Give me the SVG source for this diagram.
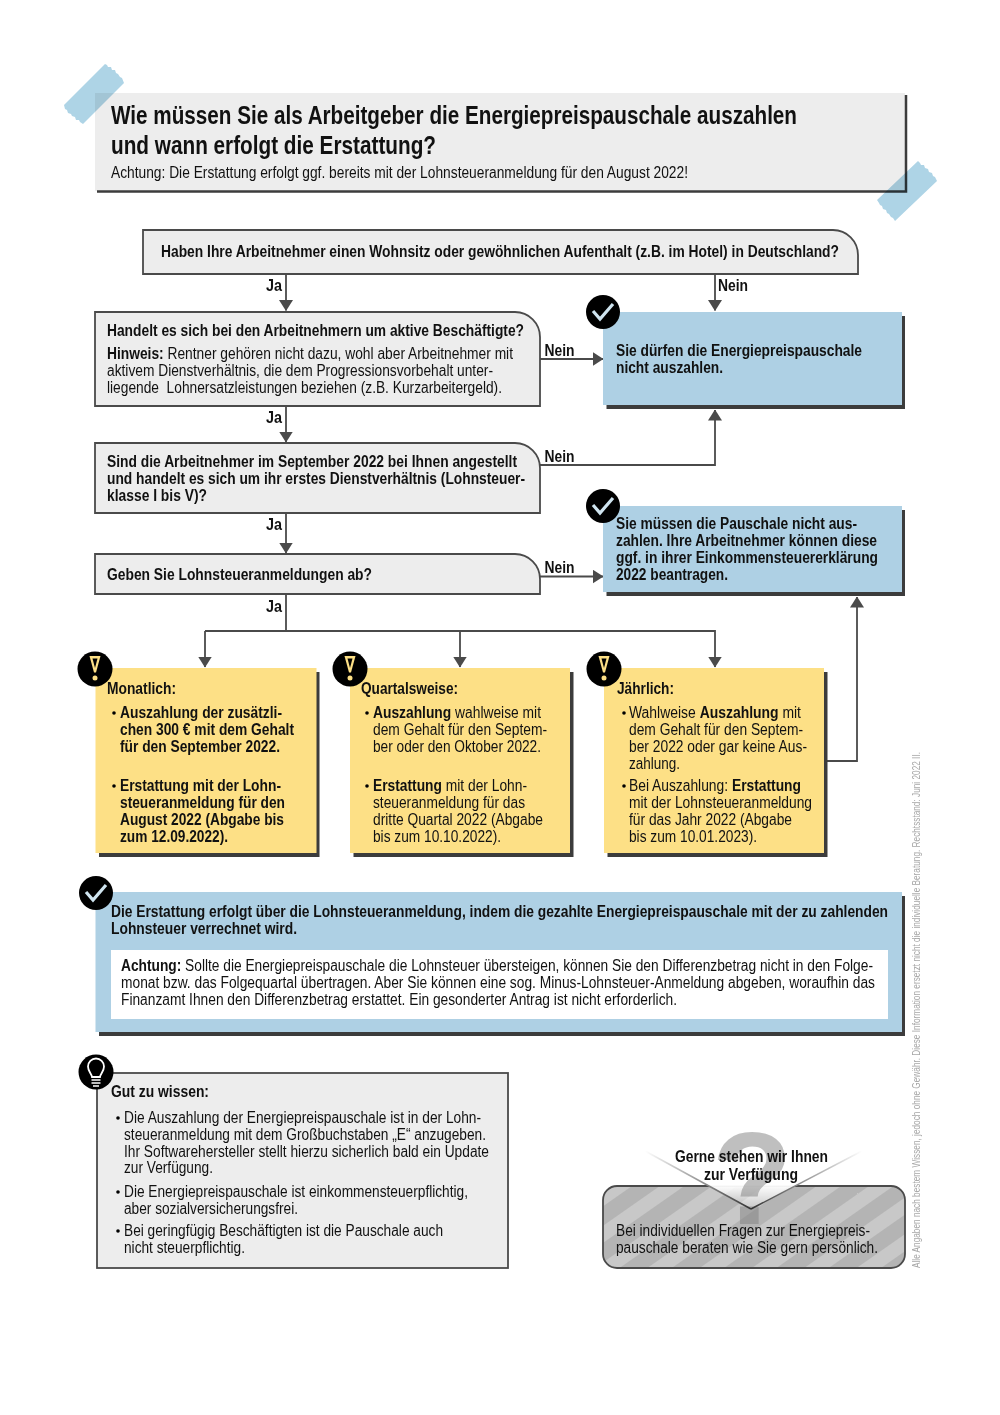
<svg xmlns="http://www.w3.org/2000/svg" width="1000" height="1415" viewBox="0 0 1000 1415">
<style>
text{font-family:"Liberation Sans",Arial,sans-serif;font-size:16px;fill:#111}
.b{font-weight:bold}
.t{font-size:25px;font-weight:bold}
.lab{font-weight:bold;font-size:16px}
.box{fill:#ededed;stroke:#4a4a4a;stroke-width:1.800}
.sh{fill:#3c3c3c}
.blue{fill:#aed0e4}
.yel{fill:#fde086}
.con{fill:none;stroke:#4a4a4a;stroke-width:1.800}
.ic{fill:#000}
.chk{fill:none;stroke:#cfe4ef;stroke-width:3.200;stroke-linejoin:miter}
.ey{fill:#fde086}
.tape{fill:#aed4e6;mix-blend-mode:multiply}
</style>
<defs>
<marker id="arr" viewBox="0 0 11 14" refX="10.500" refY="7" markerWidth="11" markerHeight="14" markerUnits="userSpaceOnUse" orient="auto"><path d="M0 0L11 7L0 14Z" fill="#4a4a4a"/></marker>
<pattern id="st" width="30" height="30" patternUnits="userSpaceOnUse" patternTransform="rotate(-35)"><rect width="30" height="30" fill="#b4b4b4"/><rect width="30" height="14" fill="#c8c8c8"/></pattern>
<linearGradient id="fl" x1="645" y1="0" x2="751" y2="0" gradientUnits="userSpaceOnUse"><stop offset="0" stop-color="#fff"/><stop offset="1" stop-color="#333"/></linearGradient>
<linearGradient id="fr" x1="862" y1="0" x2="751" y2="0" gradientUnits="userSpaceOnUse"><stop offset="0" stop-color="#fff"/><stop offset="1" stop-color="#333"/></linearGradient>
<linearGradient id="fade" x1="0" y1="1140" x2="0" y2="1209" gradientUnits="userSpaceOnUse"><stop offset="0.650" stop-color="#fff"/><stop offset="1" stop-color="#fff" stop-opacity="0"/></linearGradient>
<g id="chk"><circle r="17" class="ic"/><path d="M-10 -1L-3 7L10 -8" class="chk"/></g>
<g id="exc"><circle r="17.500" class="ic"/><path d="M-5.500 -13H5.500L1 3.500H-1Z" class="ey"/><path d="M-2.500 -10.500H2.500L0 -1Z" class="ic"/><circle cy="9" r="2.500" class="ey"/></g>
</defs>

<g id="title">
<rect x="95" y="93" width="810" height="98" fill="#ededed"/>
<path d="M97 191.500H906V95" fill="none" stroke="#3c3c3c" stroke-width="2.500"/>
<path class="tape" d="M105 64L107 65L108 67L111 67L112 70L115 70L116 73L118 74L120 77L122 78L124 83L83 124L80 122L79 120L76 120L75 117L72 116L71 114L68 113L67 110L65 109L64 105Z"/>
<path class="tape" d="M918 161L920 163L921 165L924 165L925 168L928 169L929 172L932 173L933 176L935 177L937 181L895 221L893 218L891 217L889 214L887 213L886 210L883 209L882 206L880 205L879 203L877 200Z"/>
<text x="111" y="124" class="t" textLength="686" lengthAdjust="spacingAndGlyphs">Wie müssen Sie als Arbeitgeber die Energiepreispauschale auszahlen</text>
<text x="111" y="154" class="t" textLength="325" lengthAdjust="spacingAndGlyphs">und wann erfolgt die Erstattung?</text>
<text x="111" y="178" textLength="577" lengthAdjust="spacingAndGlyphs">Achtung: Die Erstattung erfolgt ggf. bereits mit der Lohnsteueranmeldung für den August 2022!</text>
</g>

<g id="connectors">
<path class="con" d="M286 274V310.500" marker-end="url(#arr)"/>
<path class="con" d="M715 274V310.500" marker-end="url(#arr)"/>
<path class="con" d="M540 359H603" marker-end="url(#arr)"/>
<path class="con" d="M286 406V442" marker-end="url(#arr)"/>
<path class="con" d="M540 465H715V410" marker-end="url(#arr)"/>
<path class="con" d="M286 513V553" marker-end="url(#arr)"/>
<path class="con" d="M540 576.500H603" marker-end="url(#arr)"/>
<path class="con" d="M286 594V631"/>
<path class="con" d="M205 631H715V667" marker-end="url(#arr)"/>
<path class="con" d="M205 631V667" marker-end="url(#arr)"/>
<path class="con" d="M460 631V667" marker-end="url(#arr)"/>
<path class="con" d="M827 761H857V597" marker-end="url(#arr)"/>
<g class="labels">
<text x="266" y="290.500" class="lab" textLength="16" lengthAdjust="spacingAndGlyphs">Ja</text>
<text x="718" y="290.500" class="lab" textLength="30" lengthAdjust="spacingAndGlyphs">Nein</text>
<text x="544.500" y="355.500" class="lab" textLength="30" lengthAdjust="spacingAndGlyphs">Nein</text>
<text x="266" y="422.500" class="lab" textLength="16" lengthAdjust="spacingAndGlyphs">Ja</text>
<text x="544.500" y="461.500" class="lab" textLength="30" lengthAdjust="spacingAndGlyphs">Nein</text>
<text x="266" y="529.500" class="lab" textLength="16" lengthAdjust="spacingAndGlyphs">Ja</text>
<text x="544.500" y="572.500" class="lab" textLength="30" lengthAdjust="spacingAndGlyphs">Nein</text>
<text x="266" y="611.500" class="lab" textLength="16" lengthAdjust="spacingAndGlyphs">Ja</text>
</g>
</g>

<g id="q1">
<path class="box" d="M143 230H833A25 25 0 0 1 858 255V274H143Z"/>
<text x="161" y="257" class="b" textLength="678" lengthAdjust="spacingAndGlyphs">Haben Ihre Arbeitnehmer einen Wohnsitz oder gewöhnlichen Aufenthalt (z.B. im Hotel) in Deutschland?</text>
</g>
<g id="q2">
<path class="box" d="M95 312H515A25 25 0 0 1 540 337V406H95Z"/>
<text x="107" y="336" class="b" textLength="417" lengthAdjust="spacingAndGlyphs">Handelt es sich bei den Arbeitnehmern um aktive Beschäftigte?</text>
<text x="107" y="359" textLength="406" lengthAdjust="spacingAndGlyphs"><tspan class="b">Hinweis:</tspan> Rentner gehören nicht dazu, wohl aber Arbeitnehmer mit</text>
<text x="107" y="376" textLength="386" lengthAdjust="spacingAndGlyphs">aktivem Dienstverhältnis, die dem Progressionsvorbehalt unter-</text>
<text x="107" y="393" textLength="395" lengthAdjust="spacingAndGlyphs" xml:space="preserve">liegende  Lohnersatzleistungen beziehen (z.B. Kurzarbeitergeld).</text>
</g>
<g id="q3">
<path class="box" d="M95 443H515A25 25 0 0 1 540 468V513H95Z"/>
<text x="107" y="467" class="b" textLength="410" lengthAdjust="spacingAndGlyphs">Sind die Arbeitnehmer im September 2022 bei Ihnen angestellt</text>
<text x="107" y="484" class="b" textLength="418" lengthAdjust="spacingAndGlyphs">und handelt es sich um ihr erstes Dienstverhältnis (Lohnsteuer-</text>
<text x="107" y="501" class="b" textLength="100" lengthAdjust="spacingAndGlyphs">klasse I bis V)?</text>
</g>
<g id="q4">
<path class="box" d="M95 554H515A25 25 0 0 1 540 579V594H95Z"/>
<text x="107" y="580" class="b" textLength="265" lengthAdjust="spacingAndGlyphs">Geben Sie Lohnsteueranmeldungen ab?</text>
</g>

<g id="r1">
<rect x="606.500" y="316" width="298.500" height="93" class="sh"/>
<rect x="603" y="312" width="299" height="93" class="blue"/>
<use href="#chk" x="603" y="312"/>
<text x="616" y="356" class="b" textLength="246" lengthAdjust="spacingAndGlyphs">Sie dürfen die Energiepreispauschale</text>
<text x="616" y="373" class="b" textLength="107" lengthAdjust="spacingAndGlyphs">nicht auszahlen.</text>
</g>
<g id="r2">
<rect x="606.500" y="510" width="298.500" height="86" class="sh"/>
<rect x="603" y="506" width="299" height="86" class="blue"/>
<use href="#chk" x="603" y="506"/>
<text x="616" y="529" class="b" textLength="241" lengthAdjust="spacingAndGlyphs">Sie müssen die Pauschale nicht aus-</text>
<text x="616" y="546" class="b" textLength="261" lengthAdjust="spacingAndGlyphs">zahlen. Ihre Arbeitnehmer können diese</text>
<text x="616" y="563" class="b" textLength="262" lengthAdjust="spacingAndGlyphs">ggf. in ihrer Einkommensteuererklärung</text>
<text x="616" y="580" class="b" textLength="112" lengthAdjust="spacingAndGlyphs">2022 beantragen.</text>
</g>

<g id="y1">
<rect x="99" y="672" width="220.500" height="185" class="sh"/>
<rect x="95.500" y="668" width="221" height="185" class="yel"/>
<use href="#exc" x="95" y="669"/>
<text x="107" y="694" class="b" textLength="69" lengthAdjust="spacingAndGlyphs">Monatlich:</text>
<circle cx="114" cy="713" r="1.800"/>
<text x="120" y="718" class="b" textLength="162" lengthAdjust="spacingAndGlyphs">Auszahlung der zusätzli-</text>
<text x="120" y="735" class="b" textLength="174" lengthAdjust="spacingAndGlyphs">chen 300 € mit dem Gehalt</text>
<text x="120" y="752" class="b" textLength="160" lengthAdjust="spacingAndGlyphs">für den September 2022.</text>
<circle cx="114" cy="786" r="1.800"/>
<text x="120" y="791" class="b" textLength="161" lengthAdjust="spacingAndGlyphs">Erstattung mit der Lohn-</text>
<text x="120" y="808" class="b" textLength="165" lengthAdjust="spacingAndGlyphs">steueranmeldung für den</text>
<text x="120" y="825" class="b" textLength="164" lengthAdjust="spacingAndGlyphs">August 2022 (Abgabe bis</text>
<text x="120" y="842" class="b" textLength="108" lengthAdjust="spacingAndGlyphs">zum 12.09.2022).</text>
</g>
<g id="y2">
<rect x="353.500" y="672" width="220" height="185" class="sh"/>
<rect x="350" y="668" width="220" height="185" class="yel"/>
<use href="#exc" x="350" y="669"/>
<text x="361" y="694" class="b" textLength="97" lengthAdjust="spacingAndGlyphs">Quartalsweise:</text>
<circle cx="367" cy="713" r="1.800"/>
<text x="373" y="718" textLength="168" lengthAdjust="spacingAndGlyphs"><tspan class="b">Auszahlung</tspan> wahlweise mit</text>
<text x="373" y="735" textLength="174" lengthAdjust="spacingAndGlyphs">dem Gehalt für den Septem-</text>
<text x="373" y="752" textLength="168" lengthAdjust="spacingAndGlyphs">ber oder den Oktober 2022.</text>
<circle cx="367" cy="786" r="1.800"/>
<text x="373" y="791" textLength="154" lengthAdjust="spacingAndGlyphs"><tspan class="b">Erstattung</tspan> mit der Lohn-</text>
<text x="373" y="808" textLength="152" lengthAdjust="spacingAndGlyphs">steueranmeldung für das</text>
<text x="373" y="825" textLength="170" lengthAdjust="spacingAndGlyphs">dritte Quartal 2022 (Abgabe</text>
<text x="373" y="842" textLength="128" lengthAdjust="spacingAndGlyphs">bis zum 10.10.2022).</text>
</g>
<g id="y3">
<rect x="607.500" y="672" width="220" height="185" class="sh"/>
<rect x="604" y="668" width="220" height="185" class="yel"/>
<use href="#exc" x="604" y="669"/>
<text x="617" y="694" class="b" textLength="57" lengthAdjust="spacingAndGlyphs">Jährlich:</text>
<circle cx="624" cy="713" r="1.800"/>
<text x="629" y="718" textLength="172" lengthAdjust="spacingAndGlyphs">Wahlweise <tspan class="b">Auszahlung</tspan> mit</text>
<text x="629" y="735" textLength="174" lengthAdjust="spacingAndGlyphs">dem Gehalt für den Septem-</text>
<text x="629" y="752" textLength="178" lengthAdjust="spacingAndGlyphs">ber 2022 oder gar keine Aus-</text>
<text x="629" y="769" textLength="51" lengthAdjust="spacingAndGlyphs">zahlung.</text>
<circle cx="624" cy="786" r="1.800"/>
<text x="629" y="791" textLength="172" lengthAdjust="spacingAndGlyphs">Bei Auszahlung: <tspan class="b">Erstattung</tspan></text>
<text x="629" y="808" textLength="183" lengthAdjust="spacingAndGlyphs">mit der Lohnsteueranmeldung</text>
<text x="629" y="825" textLength="163" lengthAdjust="spacingAndGlyphs">für das Jahr 2022 (Abgabe</text>
<text x="629" y="842" textLength="128" lengthAdjust="spacingAndGlyphs">bis zum 10.01.2023).</text>
</g>

<g id="refund">
<rect x="99" y="896" width="806" height="140" class="sh"/>
<rect x="95.500" y="892" width="806.500" height="140" class="blue"/>
<rect x="111" y="950" width="777" height="69" fill="#fff"/>
<use href="#chk" x="96" y="893"/>
<text x="111" y="917" class="b" textLength="777" lengthAdjust="spacingAndGlyphs">Die Erstattung erfolgt über die Lohnsteueranmeldung, indem die gezahlte Energiepreispauschale mit der zu zahlenden</text>
<text x="111" y="934" class="b" textLength="186" lengthAdjust="spacingAndGlyphs">Lohnsteuer verrechnet wird.</text>
<text x="121" y="971" textLength="752" lengthAdjust="spacingAndGlyphs"><tspan class="b">Achtung:</tspan> Sollte die Energiepreispauschale die Lohnsteuer übersteigen, können Sie den Differenzbetrag nicht in den Folge-</text>
<text x="121" y="988" textLength="754" lengthAdjust="spacingAndGlyphs">monat bzw. das Folgequartal übertragen. Aber Sie können eine sog. Minus-Lohnsteuer-Anmeldung abgeben, woraufhin das</text>
<text x="121" y="1005" textLength="556" lengthAdjust="spacingAndGlyphs">Finanzamt Ihnen den Differenzbetrag erstattet. Ein gesonderter Antrag ist nicht erforderlich.</text>
</g>

<g id="info">
<rect x="97" y="1073" width="411" height="195" class="box"/>
<circle cx="96" cy="1072" r="17.500" class="ic"/>
<path d="M92 1077C91.500 1073.500 88 1071.500 88 1066.500A8 8 0 0 1 104 1066.500C104 1071.500 100.500 1073.500 100 1077Z" fill="none" stroke="#fff" stroke-width="1.800"/>
<path d="M91.500 1080H100.500M91.500 1083H100.500M93 1086H99" stroke="#fff" stroke-width="1.500"/>
<text x="111" y="1097" class="b" textLength="98" lengthAdjust="spacingAndGlyphs">Gut zu wissen:</text>
<circle cx="118" cy="1118" r="1.800"/>
<text x="124" y="1123" textLength="357" lengthAdjust="spacingAndGlyphs">Die Auszahlung der Energiepreispauschale ist in der Lohn-</text>
<text x="124" y="1140" textLength="362" lengthAdjust="spacingAndGlyphs">steueranmeldung mit dem Großbuchstaben „E“ anzugeben.</text>
<text x="124" y="1157" textLength="365" lengthAdjust="spacingAndGlyphs">Ihr Softwarehersteller stellt hierzu sicherlich bald ein Update</text>
<text x="124" y="1173" textLength="89" lengthAdjust="spacingAndGlyphs">zur Verfügung.</text>
<circle cx="118" cy="1192" r="1.800"/>
<text x="124" y="1197" textLength="344" lengthAdjust="spacingAndGlyphs">Die Energiepreispauschale ist einkommensteuerpflichtig,</text>
<text x="124" y="1214" textLength="174" lengthAdjust="spacingAndGlyphs">aber sozialversicherungsfrei.</text>
<circle cx="118" cy="1231" r="1.800"/>
<text x="124" y="1236" textLength="319" lengthAdjust="spacingAndGlyphs">Bei geringfügig Beschäftigten ist die Pauschale auch</text>
<text x="124" y="1253" textLength="121" lengthAdjust="spacingAndGlyphs">nicht steuerpflichtig.</text>
</g>

<g id="contact">
<rect x="603" y="1186" width="302" height="82" rx="14" fill="url(#st)" stroke="#4a4a4a" stroke-width="1.800"/>
<path d="M645 1151L751 1209L862 1151V1130H645Z" fill="url(#fade)"/>
<text x="752" y="1224" text-anchor="middle" style="font-size:132px;font-weight:bold;fill:#808080;fill-opacity:0.5">?</text>
<path d="M645 1151L751 1209" fill="none" stroke="url(#fl)" stroke-width="1.500"/>
<path d="M862 1151L751 1209" fill="none" stroke="url(#fr)" stroke-width="1.500"/>
<text x="675" y="1162" class="b" textLength="153" lengthAdjust="spacingAndGlyphs">Gerne stehen wir Ihnen</text>
<text x="704" y="1180" class="b" textLength="94" lengthAdjust="spacingAndGlyphs">zur Verfügung</text>
<text x="616" y="1236" textLength="254" lengthAdjust="spacingAndGlyphs">Bei individuellen Fragen zur Energiepreis-</text>
<text x="616" y="1253" textLength="262" lengthAdjust="spacingAndGlyphs">pauschale beraten wie Sie gern persönlich.</text>
</g>

<text transform="translate(920 1268) rotate(-90)" style="font-size:10px;fill:#a6a6a6" textLength="516" lengthAdjust="spacingAndGlyphs">Alle Angaben nach bestem Wissen, jedoch ohne Gewähr. Diese Information ersetzt nicht die individuelle Beratung. Rechtsstand: Juni 2022 II.</text>
</svg>
